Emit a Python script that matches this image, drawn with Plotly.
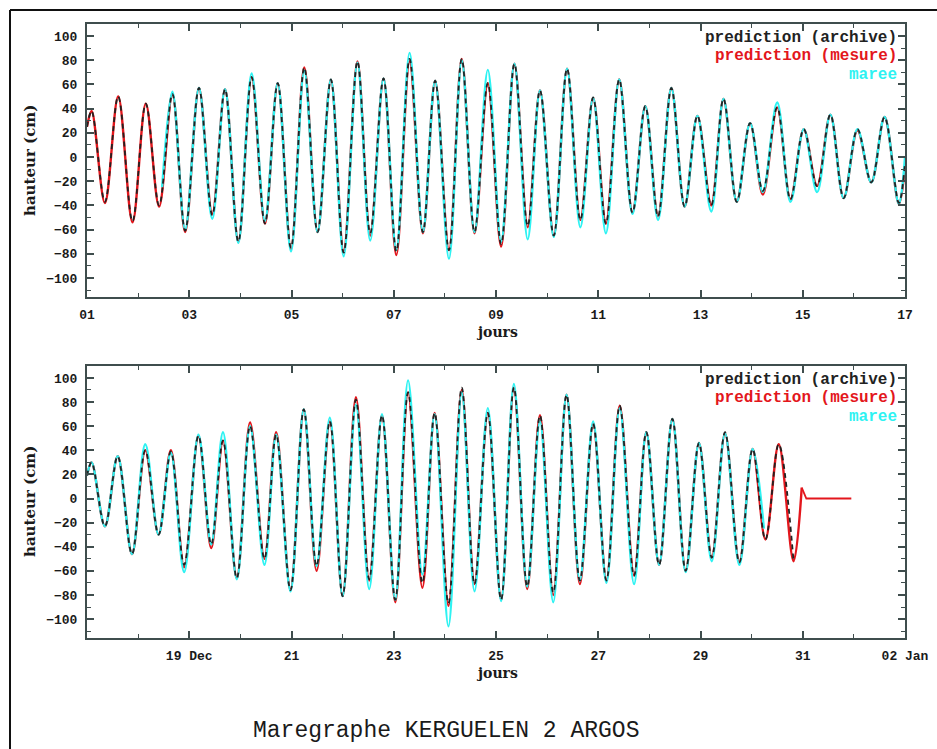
import plotly.graph_objects as go

# ---------------- data ----------------
# Top panel: days of December (01 .. 17), high/low water extrema
t_top = [1.00, 1.09, 1.35, 1.61, 1.89, 2.15, 2.41, 2.67, 2.92, 3.19, 3.45, 3.70, 3.96, 4.22, 4.48, 4.73,
         4.99, 5.25, 5.51, 5.77, 6.02, 6.29, 6.54, 6.80, 7.05, 7.31, 7.57, 7.81, 8.08, 8.33, 8.58, 8.84,
         9.10, 9.36, 9.62, 9.86, 10.13, 10.39, 10.65, 10.90, 11.15, 11.41, 11.67, 11.92, 12.17, 12.43,
         12.69, 12.94, 13.21, 13.45, 13.71, 13.97, 14.22, 14.50, 14.76, 15.02, 15.28, 15.54, 15.80,
         16.07, 16.34, 16.60, 16.88, 17.00]
archive_top = [25, 38, -37, 50, -53, 44, -40, 52, -61, 57, -48, 56, -70, 66, -55, 61, -75, 74, -62, 64,
               -79, 79, -63, 65, -78, 81, -62, 63, -77, 81, -62, 61, -72, 77, -57, 55, -65, 73, -52, 49,
               -55, 64, -46, 42, -49, 57, -41, 34, -40, 48, -37, 28, -28, 41, -35, 23, -24, 35, -34, 23,
               -21, 33, -38, -5]
mesure_top = [25, 38, -38, 50, -54, 44, -41, 52, -62, 57, -47, 56, -70, 66, -55, 61, -76, 74, -62, 64,
              -78, 79, -65, 65, -81, 79, -63, 63, -77, 81, -63, 61, -74, 77, -58, 55, -65, 73, -52, 49,
              -55, 64, -46, 42, -49, 57, -41, 34, -40, 48, -37, 28, -31, 41, -35, 23, -24, 35, -34, 22,
              -21, 33, -39, -8]
t_top_maree = [2.47, 2.67, 2.92, 3.19, 3.45, 3.70, 3.96, 4.22, 4.48, 4.73, 4.99, 5.25, 5.51, 5.77, 6.02,
               6.29, 6.54, 6.80, 7.05, 7.31, 7.57, 7.81, 8.08, 8.33, 8.58, 8.84, 9.10, 9.36, 9.62, 9.86,
               10.13, 10.39, 10.65, 10.90, 11.15, 11.41, 11.67, 11.92, 12.17, 12.43, 12.69, 12.94, 13.21,
               13.45, 13.71, 13.97, 14.22, 14.50, 14.76, 15.02, 15.28, 15.54, 15.80, 16.07, 16.34, 16.60,
               16.88, 17.00]
maree_top = [-25, 54, -60, 57, -51, 56, -71, 69, -53, 61, -78, 71, -62, 64, -82, 78, -69, 65, -77, 86,
             -62, 63, -84, 80, -62, 72, -70, 77, -68, 55, -66, 73, -58, 49, -63, 64, -47, 42, -52, 57,
             -41, 34, -45, 48, -37, 28, -29, 45, -37, 23, -29, 35, -34, 23, -21, 33, -39, 0]

# Bottom panel: days counted from 1 Dec (17 Dec .. 02 Jan = 33)
t_bot = [17.00, 17.09, 17.35, 17.60, 17.88, 18.14, 18.40, 18.64, 18.90, 19.18, 19.43, 19.66, 19.93,
         20.19, 20.47, 20.70, 20.98, 21.24, 21.49, 21.75, 22.00, 22.26, 22.52, 22.77, 23.03, 23.28,
         23.56, 23.80, 24.07, 24.33, 24.58, 24.84, 25.10, 25.35, 25.61, 25.86, 26.12, 26.38, 26.64,
         26.90, 27.16, 27.42, 27.70, 27.94, 28.19, 28.45, 28.71, 28.97, 29.22, 29.48, 29.76, 30.02,
         30.27, 30.53, 30.82]
archive_bot = [19, 30, -23, 35, -46, 40, -30, 39, -55, 52, -38, 48, -66, 60, -50, 53, -76, 74, -56, 64,
               -81, 82, -67, 69, -84, 88, -70, 71, -87, 92, -71, 71, -84, 92, -73, 69, -78, 86, -68, 62,
               -68, 77, -64, 55, -55, 66, -60, 46, -49, 55, -53, 41, -34, 45, -52]
t_bot_mesure = [17.00, 17.09, 17.35, 17.60, 17.88, 18.14, 18.40, 18.64, 18.90, 19.18, 19.43, 19.66,
                19.93, 20.19, 20.47, 20.70, 20.98, 21.24, 21.49, 21.75, 22.00, 22.26, 22.52, 22.77,
                23.03, 23.28, 23.56, 23.80, 24.07, 24.33, 24.58, 24.84, 25.10, 25.35, 25.61, 25.86,
                26.12, 26.38, 26.64, 26.90, 27.16, 27.42, 27.70, 27.94, 28.19, 28.45, 28.71, 28.97,
                29.22, 29.48, 29.76, 30.02, 30.27, 30.53, 30.82, 30.98]
mesure_bot = [19, 30, -23, 35, -46, 40, -30, 40, -57, 52, -41, 48, -66, 63, -50, 55, -76, 74, -60, 64,
              -81, 84, -68, 69, -86, 88, -74, 71, -89, 90, -71, 71, -84, 92, -75, 69, -80, 86, -71, 62,
              -68, 77, -64, 55, -55, 66, -60, 46, -49, 54, -53, 41, -34, 45, -52, 9]
t_bot_tail = [30.98, 31.03, 31.07, 31.95]
mesure_bot_tail = [9, 3, 0, 0]
t_bot_maree = [17.00, 17.09, 17.35, 17.60, 17.88, 18.14, 18.40, 18.64, 18.90, 19.18, 19.43, 19.66,
               19.93, 20.19, 20.47, 20.70, 20.98, 21.24, 21.49, 21.75, 22.00, 22.26, 22.52, 22.77,
               23.03, 23.28, 23.56, 23.80, 24.07, 24.33, 24.58, 24.84, 25.10, 25.35, 25.61, 25.86,
               26.12, 26.38, 26.64, 26.90, 27.16, 27.42, 27.70, 27.94, 28.19, 28.45, 28.71, 28.97,
               29.22, 29.48, 29.76, 30.02, 30.24]
maree_bot = [19, 30, -23, 35, -46, 45, -30, 38, -61, 53, -38, 55, -67, 60, -55, 53, -77, 74, -56, 67,
             -81, 78, -75, 70, -84, 98, -63, 70, -106, 88, -77, 75, -85, 95, -73, 64, -86, 86, -68, 64,
             -70, 75, -71, 55, -55, 66, -61, 46, -52, 54, -55, 41, -25]

top_tickvals = [1, 3, 5, 7, 9, 11, 13, 15, 17]
top_ticktext = ["01", "03", "05", "07", "09", "11", "13", "15", "17"]
bot_tickvals = [19, 21, 23, 25, 27, 29, 31, 33]
bot_ticktext = ["19 Dec", "21", "23", "25", "27", "29", "31", "02 Jan"]
y_tickvals = [-100, -80, -60, -40, -20, 0, 20, 40, 60, 80, 100]
legend_labels = ["prediction (archive)", "prediction (mesure)", "maree"]
title_text = "Maregraphe KERGUELEN 2 ARGOS"
ylabel = "hauteur (cm)"
xlabel = "jours"

# ---------------- styling ----------------
W, H = 937, 749
RED = "#e3161c"
CYAN = "#2ef2f2"
BLACK = "#222222"
AXC = "#3f4d4d"
MONO = "Liberation Mono, Courier New, monospace"
SERIF = "DejaVu Serif, Liberation Serif, serif"

def px(x):
    return x / W

def py(y):
    return 1 - y / H

fig = go.Figure()

def add_panel(xa, ya, t_m, v_m, t_c, v_c, t_a, v_a):
    fig.add_trace(go.Scatter(x=t_m, y=v_m, mode="lines", xaxis=xa, yaxis=ya,
                             line=dict(color=RED, width=2.4, shape="spline", smoothing=1.0),
                             showlegend=False, hoverinfo="skip"))
    fig.add_trace(go.Scatter(x=t_c, y=v_c, mode="lines", xaxis=xa, yaxis=ya,
                             line=dict(color=CYAN, width=2.4, shape="spline", smoothing=1.0),
                             showlegend=False, hoverinfo="skip"))
    fig.add_trace(go.Scatter(x=t_a, y=v_a, mode="lines", xaxis=xa, yaxis=ya,
                             line=dict(color=BLACK, width=1.8, shape="spline", smoothing=1.0,
                                       dash="5px,4px"),
                             showlegend=False, hoverinfo="skip"))

add_panel("x", "y", t_top, mesure_top, t_top_maree, maree_top, t_top, archive_top)
add_panel("x2", "y2", t_bot_mesure, mesure_bot, t_bot_maree, maree_bot, t_bot, archive_bot)
fig.add_trace(go.Scatter(x=t_bot_tail, y=mesure_bot_tail, mode="lines", xaxis="x2", yaxis="y2",
                         line=dict(color=RED, width=1.8), showlegend=False, hoverinfo="skip"))

tickfont = dict(family=MONO, size=13, color="#1a1a1a", weight="bold")

common_x = dict(showline=True, linecolor=AXC, linewidth=2, mirror="ticks", ticks="inside",
                ticklen=7, tickwidth=1.5, tickcolor=AXC, showgrid=False, zeroline=False,
                tickfont=tickfont, automargin=False, ticklabelstandoff=4,
                minor=dict(ticks="inside", ticklen=4, tickwidth=1.2, tickcolor=AXC, dtick=1,
                           showgrid=False))
common_y = dict(showline=True, linecolor=AXC, linewidth=2, mirror="ticks", ticks="inside",
                ticklen=7, tickwidth=1.5, tickcolor=AXC, showgrid=False, zeroline=False,
                tickfont=tickfont, automargin=False, range=[-115.7, 109.9],
                tickmode="array", tickvals=y_tickvals, ticklabelstandoff=5,
                minor=dict(ticks="inside", ticklen=4, tickwidth=1.2, tickcolor=AXC, dtick=10,
                           tick0=0, showgrid=False))

fig.update_layout(
    width=W, height=H, template="none",
    paper_bgcolor="white", plot_bgcolor="white",
    margin=dict(l=0, r=0, t=0, b=0),
    xaxis=dict(common_x, domain=[px(87), px(905)], range=[1, 17], anchor="y",
               tickmode="array", tickvals=top_tickvals, ticktext=top_ticktext),
    yaxis=dict(common_y, domain=[py(297), py(24)], anchor="x"),
    xaxis2=dict(common_x, domain=[px(87), px(905)], range=[17, 33], anchor="y2",
                tickmode="array", tickvals=bot_tickvals, ticktext=bot_ticktext),
    yaxis2=dict(common_y, domain=[py(638), py(366)], anchor="x2"),
    showlegend=False,
)
fig.update_xaxes(minor_tick0=1, selector=dict(anchor="y"))

annotations = []
legend_colors = [BLACK, RED, CYAN]
for ys in ([38, 56, 75], [380, 398, 417]):
    for lab, col, yy in zip(legend_labels, legend_colors, ys):
        annotations.append(dict(text=lab, x=px(899), y=py(yy), xref="paper", yref="paper",
                                xanchor="right", yanchor="middle", showarrow=False,
                                font=dict(family=MONO, size=16, color=col, weight="bold")))
for yc in (161, 502):
    annotations.append(dict(text=ylabel, x=px(30), y=py(yc), xref="paper", yref="paper",
                            textangle=-90, xanchor="center", yanchor="middle", showarrow=False,
                            font=dict(family=SERIF, size=15, color="#1a1a1a", weight="bold")))
for yc in (332, 673):
    annotations.append(dict(text=xlabel, x=px(497), y=py(yc), xref="paper", yref="paper",
                            xanchor="center", yanchor="middle", showarrow=False,
                            font=dict(family=SERIF, size=14, color="#1a1a1a", weight="bold")))
annotations.append(dict(text=title_text, x=px(446), y=py(731), xref="paper", yref="paper",
                        xanchor="center", yanchor="middle", showarrow=False,
                        font=dict(family=MONO, size=23, color="#1a1a1a")))
fig.update_layout(annotations=annotations)

fig.update_layout(shapes=[
    dict(type="line", xref="paper", yref="paper", x0=px(10), x1=1.0, y0=py(10), y1=py(10),
         line=dict(color="#111111", width=2)),
    dict(type="line", xref="paper", yref="paper", x0=px(10), x1=px(10), y0=py(10), y1=0,
         line=dict(color="#111111", width=2)),
])

fig.write_html(
    "out.html",
    config={"displayModeBar": False},
    post_script="document.body.style.margin='0';document.body.style.overflow='hidden';",
)
